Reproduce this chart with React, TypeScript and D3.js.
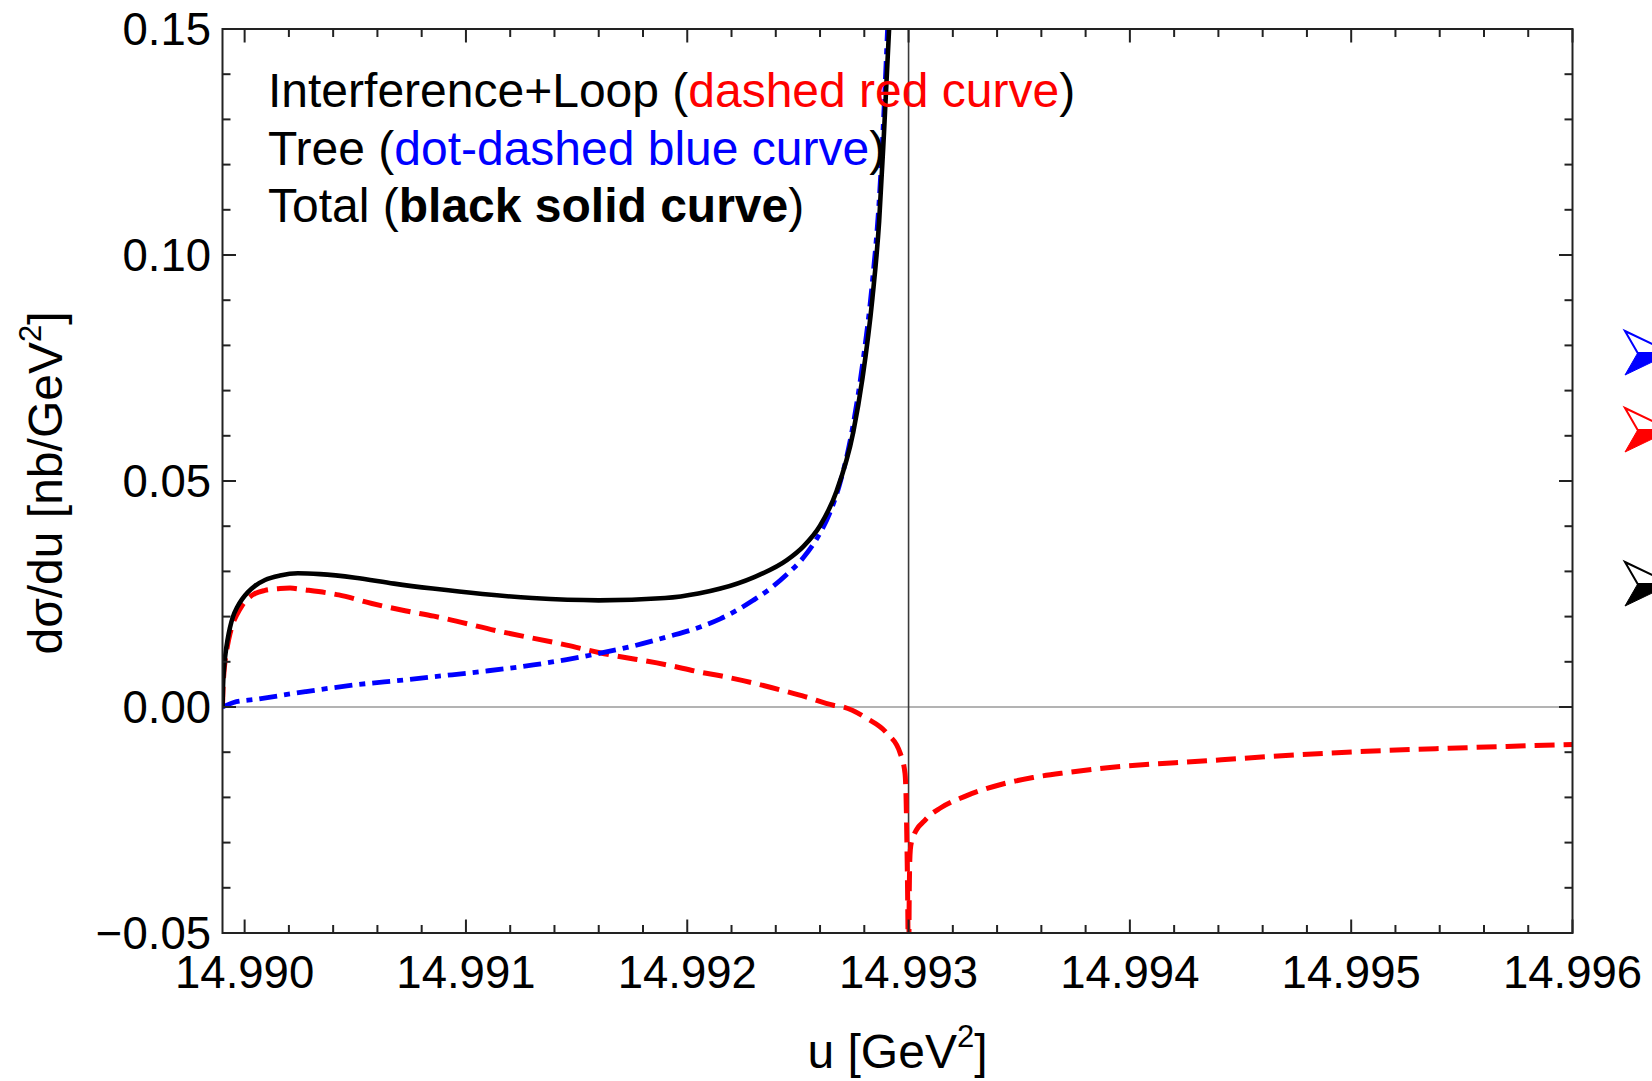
import React from "react";
import * as d3 from "d3";

// ---- data -----------------------------------------------------------------
// u [GeV^2], dσ/du [nb/GeV^2]
const totalCurve: [number, number][] = [
  [14.9899, 0.0],
  [14.9899023, 0.0045],
  [14.9899068, 0.0085],
  [14.9899135, 0.0118],
  [14.9899226, 0.0148],
  [14.9899339, 0.0176],
  [14.9899474, 0.02],
  [14.9899655, 0.022],
  [14.989988, 0.0238],
  [14.990015, 0.0254],
  [14.990047, 0.0268],
  [14.990092, 0.0281],
  [14.99016, 0.0291],
  [14.990241, 0.0296],
  [14.990341, 0.0294],
  [14.9905, 0.0286],
  [14.990675, 0.0273],
  [14.99085, 0.0262],
  [14.991075, 0.025],
  [14.9913, 0.0241],
  [14.9916, 0.0236],
  [14.9919, 0.0241],
  [14.99205, 0.0251],
  [14.99215, 0.0262],
  [14.9923, 0.0287],
  [14.99245, 0.0325],
  [14.992524, 0.0355],
  [14.9926, 0.0401],
  [14.992675, 0.0478],
  [14.99275, 0.0608],
  [14.992792, 0.0728],
  [14.992837, 0.0906],
  [14.992867, 0.1074],
  [14.992889, 0.1271],
  [14.992912, 0.15],
  [14.992925, 0.165],
];

const treeCurve: [number, number][] = [
  [14.9899, 0.0],
  [14.98995, 0.001],
  [14.99005, 0.0017],
  [14.990275, 0.0034],
  [14.9905, 0.0049],
  [14.990725, 0.006],
  [14.990855, 0.0067],
  [14.99108, 0.0079],
  [14.991305, 0.0093],
  [14.991455, 0.0105],
  [14.991607, 0.0119],
  [14.991756, 0.0135],
  [14.991908, 0.0155],
  [14.992058, 0.0177],
  [14.992149, 0.0195],
  [14.992228, 0.0215],
  [14.992298, 0.0236],
  [14.992375, 0.0262],
  [14.992447, 0.0292],
  [14.992524, 0.033],
  [14.992598, 0.0383],
  [14.992643, 0.0428],
  [14.992687, 0.049],
  [14.992748, 0.062],
  [14.992792, 0.0758],
  [14.992837, 0.0943],
  [14.992867, 0.1119],
  [14.992889, 0.1321],
  [14.992905, 0.15],
  [14.992915, 0.162],
];

// interference + loop, below the pole
const loopCurveLow: [number, number][] = [
  [14.9899, 0.0],
  [14.9899023, 0.004],
  [14.9899068, 0.0078],
  [14.9899135, 0.0108],
  [14.9899226, 0.0136],
  [14.9899339, 0.0162],
  [14.9899474, 0.0185],
  [14.9899655, 0.0205],
  [14.989988, 0.0224],
  [14.990015, 0.024],
  [14.990047, 0.0251],
  [14.990092, 0.0258],
  [14.99016, 0.0262],
  [14.990205, 0.0263],
  [14.990275, 0.0259],
  [14.990425, 0.0248],
  [14.990575, 0.0229],
  [14.990725, 0.0213],
  [14.990855, 0.0201],
  [14.991155, 0.0167],
  [14.991455, 0.0137],
  [14.991605, 0.012],
  [14.99191, 0.0093],
  [14.99206, 0.0077],
  [14.99215, 0.0069],
  [14.9923, 0.0053],
  [14.99245, 0.0034],
  [14.992532, 0.0023],
  [14.99266, 0.0004],
  [14.992705, 0.0],
  [14.992811, -0.0025],
  [14.992902, -0.0058],
  [14.992962, -0.0102],
  [14.992984, -0.0147],
  [14.992989, -0.0206],
  [14.992993, -0.0317],
  [14.992996, -0.0427],
  [14.992999, -0.06],
];

// interference + loop, above the pole
const loopCurveHigh: [number, number][] = [
  [14.993001, -0.06],
  [14.9930025, -0.045],
  [14.993005, -0.035],
  [14.993008, -0.0316],
  [14.993015, -0.0295],
  [14.993025, -0.0282],
  [14.993045, -0.0265],
  [14.993067, -0.0254],
  [14.9931, -0.0238],
  [14.993142, -0.0224],
  [14.993263, -0.0196],
  [14.993413, -0.0172],
  [14.993562, -0.0156],
  [14.993715, -0.0145],
  [14.993865, -0.0136],
  [14.994347, -0.0119],
  [14.994618, -0.011],
  [14.99507, -0.0098],
  [14.995521, -0.009],
  [14.996, -0.0083],
];

const uDomain: [number, number] = [14.9899, 14.996];
const vDomain: [number, number] = [-0.05, 0.15];
const xMajorTicks = [14.99, 14.991, 14.992, 14.993, 14.994, 14.995, 14.996];
const xTickLabels = ["14.990", "14.991", "14.992", "14.993", "14.994", "14.995", "14.996"];
const yMajorTicks = [-0.05, 0.0, 0.05, 0.1, 0.15];
const yTickLabels = ["\u22120.05", "0.00", "0.05", "0.10", "0.15"];
const poleU = 14.993;
const bulletColors = ["#0000ff", "#ff0000", "#000000"];
const bulletY = [353, 430, 584];

// ---- layout ---------------------------------------------------------------
const W = 1652;
const H = 1081;
const L = 222.5;
const R = 1572.5;
const T = 29;
const B = 933;
const FONT = "'Liberation Sans', Arial, Helvetica, sans-serif";

export default function App() {
  const x = d3.scaleLinear().domain(uDomain).range([L, R]);
  const y = d3.scaleLinear().domain(vDomain).range([B, T]);

  const line = d3
    .line<[number, number]>()
    .x((d) => x(d[0]))
    .y((d) => y(d[1]))
    .curve(d3.curveMonotoneX);

  const xMinor = d3
    .range(0, 31)
    .map((i) => 14.99 + i * 0.0002)
    .filter((u) => !xMajorTicks.some((m) => Math.abs(m - u) < 1e-9) && u <= uDomain[1] + 1e-9);
  const yMinor = d3
    .range(0, 21)
    .map((i) => -0.05 + i * 0.01)
    .filter((v) => !yMajorTicks.some((m) => Math.abs(m - v) < 1e-9));

  const major = 13.5;
  const minor = 8;
  const tickStroke = "#222";

  return (
    <svg
      width={W}
      height={H}
      style={{ position: "absolute", left: 0, top: 0, background: "#fff" }}
      fontFamily={FONT}
    >
      <defs>
        <clipPath id="plot-area">
          <rect x={L} y={T} width={R - L} height={B - T} />
        </clipPath>
      </defs>

      {/* zero line and pole marker */}
      <line x1={L} x2={R} y1={y(0)} y2={y(0)} stroke="#9a9a9a" strokeWidth={1.6} />
      <line x1={x(poleU)} x2={x(poleU)} y1={T} y2={B} stroke="#3a3a3a" strokeWidth={1.6} />

      {/* curves */}
      <g clipPath="url(#plot-area)" fill="none">
        <path d={line(loopCurveLow) ?? ""} stroke="#ff0000" strokeWidth={5} strokeDasharray="20 9" />
        <path d={line(loopCurveHigh) ?? ""} stroke="#ff0000" strokeWidth={5} strokeDasharray="20 9" />
        <path d={line(treeCurve) ?? ""} stroke="#0000ff" strokeWidth={4.8} strokeDasharray="18 7 6 7" />
        <path d={line(totalCurve) ?? ""} stroke="#000" strokeWidth={4.6} />
      </g>

      {/* frame */}
      <rect x={L} y={T} width={R - L} height={B - T} fill="none" stroke={tickStroke} strokeWidth={2} />

      {/* ticks on all four sides */}
      <g stroke={tickStroke} strokeWidth={2}>
        {xMajorTicks.map((u) => (
          <g key={"xM" + u}>
            <line x1={x(u)} x2={x(u)} y1={B} y2={B - major} />
            <line x1={x(u)} x2={x(u)} y1={T} y2={T + major} />
          </g>
        ))}
        {xMinor.map((u) => (
          <g key={"xm" + u}>
            <line x1={x(u)} x2={x(u)} y1={B} y2={B - minor} />
            <line x1={x(u)} x2={x(u)} y1={T} y2={T + minor} />
          </g>
        ))}
        {yMajorTicks.map((v) => (
          <g key={"yM" + v}>
            <line x1={L} x2={L + major} y1={y(v)} y2={y(v)} />
            <line x1={R} x2={R - major} y1={y(v)} y2={y(v)} />
          </g>
        ))}
        {yMinor.map((v) => (
          <g key={"ym" + v}>
            <line x1={L} x2={L + minor} y1={y(v)} y2={y(v)} />
            <line x1={R} x2={R - minor} y1={y(v)} y2={y(v)} />
          </g>
        ))}
      </g>

      {/* tick labels */}
      <g fontSize={45.5} fill="#000">
        {xMajorTicks.map((u, i) => (
          <text key={"xl" + u} x={x(u)} y={988} textAnchor="middle">
            {xTickLabels[i]}
          </text>
        ))}
        {yMajorTicks.map((v, i) => (
          <text key={"yl" + v} x={211} y={y(v) + 16} textAnchor="end">
            {yTickLabels[i]}
          </text>
        ))}
      </g>

      {/* axis titles */}
      <text x={(L + R) / 2} y={1068} textAnchor="middle" fontSize={48}>
        u [GeV
        <tspan fontSize={31} dy={-21}>
          2
        </tspan>
        <tspan dy={21}>]</tspan>
      </text>
      <text
        transform={`translate(62, ${(T + B) / 2 + 2}) rotate(-90)`}
        textAnchor="middle"
        fontSize={48}
      >
        d{"\u03c3"}/du [nb/GeV
        <tspan fontSize={31} dy={-21}>
          2
        </tspan>
        <tspan dy={21}>]</tspan>
      </text>

      {/* curve legend */}
      <g fontSize={48}>
        <text x={268} y={107}>
          Interference+Loop (<tspan fill="#ff0000">dashed red curve</tspan>)
        </text>
        <text x={268} y={165}>
          Tree (<tspan fill="#0000ff">dot-dashed blue curve</tspan>)
        </text>
        <text x={268} y={222}>
          Total (<tspan fontWeight="bold">black solid curve</tspan>)
        </text>
      </g>

      {/* bullet arrowheads at the right margin */}
      {bulletColors.map((c, i) => {
        const cy = bulletY[i];
        const h = 22;
        const back = 1625;
        const notch = 1637.7;
        const tip = 1671;
        return (
          <g key={"b" + i}>
            <path
              d={`M${back},${cy - h} L${tip},${cy} L${notch},${cy} Z`}
              fill="#fff"
              stroke={c}
              strokeWidth={2}
              strokeLinejoin="miter"
            />
            <path d={`M${notch},${cy} L${tip},${cy} L${back},${cy + h} Z`} fill={c} stroke={c} strokeWidth={1} />
          </g>
        );
      })}
    </svg>
  );
}
